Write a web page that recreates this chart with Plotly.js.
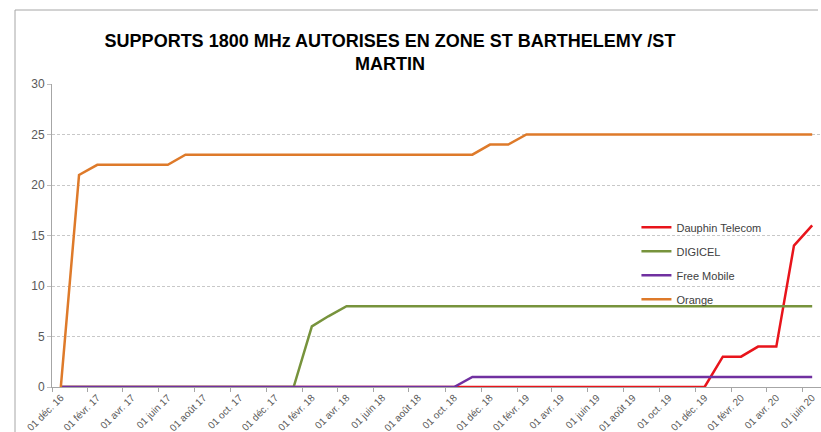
<!DOCTYPE html>
<html>
<head>
<meta charset="utf-8">
<script src="https://cdn.plot.ly/plotly-3.0.1.min.js"></script>
<style>html,body{margin:0;padding:0;background:#fff;overflow:hidden;}#chart{width:821px;height:432px;}</style>
</head>
<body>
<div id="chart"></div>
<script>
// Monthly categories (Dec 2016 -> Jun 2020)
var months = [
  '2016-12-01','2017-01-01','2017-02-01','2017-03-01','2017-04-01','2017-05-01','2017-06-01','2017-07-01','2017-08-01','2017-09-01','2017-10-01','2017-11-01',
  '2017-12-01','2018-01-01','2018-02-01','2018-03-01','2018-04-01','2018-05-01','2018-06-01','2018-07-01','2018-08-01','2018-09-01','2018-10-01','2018-11-01',
  '2018-12-01','2019-01-01','2019-02-01','2019-03-01','2019-04-01','2019-05-01','2019-06-01','2019-07-01','2019-08-01','2019-09-01','2019-10-01','2019-11-01',
  '2019-12-01','2020-01-01','2020-02-01','2020-03-01','2020-04-01','2020-05-01','2020-06-01'
];
var seriesNames = ['Dauphin Telecom', 'DIGICEL', 'Free Mobile', 'Orange'];
var dauphinTelecom = [0,0,0,0,0,0,0,0,0,0,0,0, 0,0,0,0,0,0,0,0,0,0,0,0, 0,0,0,0,0,0,0,0,0,0,0,0, 0,3,3,4,4,14,16];
var digicel        = [0,0,0,0,0,0,0,0,0,0,0,0, 0,0,6,7,8,8,8,8,8,8,8,8, 8,8,8,8,8,8,8,8,8,8,8,8, 8,8,8,8,8,8,8];
var freeMobile     = [0,0,0,0,0,0,0,0,0,0,0,0, 0,0,0,0,0,0,0,0,0,0,0,1, 1,1,1,1,1,1,1,1,1,1,1,1, 1,1,1,1,1,1,1];
var orange         = [0,21,22,22,22,22,22,23,23,23,23,23, 23,23,23,23,23,23,23,23,23,23,23,23, 24,24,25,25,25,25,25,25,25,25,25,25, 25,25,25,25,25,25,25];

var tickDates = ['2016-12-01','2017-02-01','2017-04-01','2017-06-01','2017-08-01','2017-10-01','2017-12-01','2018-02-01','2018-04-01','2018-06-01','2018-08-01','2018-10-01','2018-12-01','2019-02-01','2019-04-01','2019-06-01','2019-08-01','2019-10-01','2019-12-01','2020-02-01','2020-04-01','2020-06-01'];
var tickLabels = ['01 déc. 16','01 févr. 17','01 avr. 17','01 juin 17','01 août 17','01 oct. 17','01 déc. 17','01 févr. 18','01 avr. 18','01 juin 18','01 août 18','01 oct. 18','01 déc. 18','01 févr. 19','01 avr. 19','01 juin 19','01 août 19','01 oct. 19','01 déc. 19','01 févr. 20','01 avr. 20','01 juin 20'];
var boundaryDates = ['2016-11-16','2017-01-16','2017-03-16','2017-05-16','2017-07-16','2017-09-16','2017-11-16','2018-01-16','2018-03-16','2018-05-16','2018-07-16','2018-09-16','2018-11-16','2019-01-16','2019-03-16','2019-05-16','2019-07-16','2019-09-16','2019-11-16','2020-01-16','2020-03-16','2020-05-16'];

var colors = ['#E8141B', '#77933C', '#7030A0', '#DE7A2A'];
var values = [dauphinTelecom, digicel, freeMobile, orange];

var FONT = 'Liberation Sans, Arial, sans-serif';
var traces = values.map(function (v, k) {
  return {
    type: 'scatter', mode: 'lines', name: seriesNames[k],
    x: months, y: v,
    line: {color: colors[k], width: 2.5},
    legendgroup: 'g' + k,
    hoverinfo: 'x+y+name'
  };
});

var layout = {
  width: 821, height: 432,
  margin: {l: 52, r: 0, t: 84, b: 45, pad: 0},
  paper_bgcolor: '#ffffff', plot_bgcolor: '#ffffff',
  font: {family: FONT, color: '#595959', size: 11},
  title: {
    text: 'SUPPORTS 1800 MHz AUTORISES EN ZONE ST BARTHELEMY /ST<br>MARTIN',
    font: {family: FONT, size: 18, color: '#000000', weight: 'bold'},
    x: 390 / 821, xanchor: 'center', xref: 'container',
    y: 1 - 47 / 432, yanchor: 'top', yref: 'container'
  },
  xaxis: {
    type: 'date',
    range: ['2016-11-16', '2020-06-16'],
    tickmode: 'array', tickvals: tickDates, ticktext: tickLabels,
    tickangle: -45, ticks: '',
    tickfont: {family: FONT, size: 10, color: '#595959'},
    showgrid: false, zeroline: false,
    showline: true, linecolor: '#A6A6A6', linewidth: 1,
    minor: {tickmode: 'array', tickvals: boundaryDates, ticks: 'outside', ticklen: 4, tickcolor: '#A6A6A6', tickwidth: 1, showgrid: false}
  },
  yaxis: {
    range: [0, 30], tickmode: 'linear', tick0: 0, dtick: 5,
    ticks: 'outside', ticklen: 4, tickcolor: '#BFBFBF',
    tickfont: {family: FONT, size: 12, color: '#595959'},
    showgrid: true, gridcolor: '#C8C8C8', gridwidth: 1, griddash: '3px,2px',
    zeroline: false, showline: true, linecolor: '#A6A6A6', linewidth: 1
  },
  showlegend: true,
  legend: {
    x: 0.76, xanchor: 'left', y: 0.575, yanchor: 'top',
    bgcolor: 'rgba(0,0,0,0)', borderwidth: 0,
    font: {family: FONT, size: 11, color: '#404040'},
    traceorder: 'grouped', tracegroupgap: 5
  },
  shapes: [
    {type: 'line', xref: 'paper', yref: 'paper', x0: (15 - 52) / 769, x1: (15 - 52) / 769, y0: -0.3, y1: 1 + (84 - 10) / 303, line: {color: '#A6A6A6', width: 1}, layer: 'below'},
    {type: 'line', xref: 'paper', yref: 'paper', x0: (15 - 52) / 769, x1: (818 - 52) / 769, y0: 1 + (84 - 10) / 303, y1: 1 + (84 - 10) / 303, line: {color: '#A6A6A6', width: 1}, layer: 'below'}
  ]
};

Plotly.newPlot('chart', traces, layout, {displayModeBar: false, staticPlot: true});
</script>
</body>
</html>
